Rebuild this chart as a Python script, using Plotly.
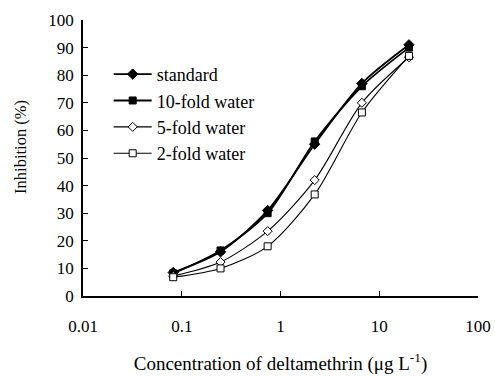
import plotly.graph_objects as go

conc = [0.082, 0.247, 0.741, 2.22, 6.67, 20]
standard = [8.5, 16.0, 31.0, 55.0, 77.0, 91.0]
fold10 = [8.2, 16.5, 30.0, 56.0, 76.0, 90.0]
fold5 = [7.2, 12.3, 23.5, 42.0, 70.0, 86.5]
fold2 = [6.8, 10.0, 18.0, 36.8, 66.5, 87.0]
names = ["standard", "10-fold water", "5-fold water", "2-fold water"]
xticks = [0.01, 0.1, 1, 10, 100]
xticktext = ["0.01", "0.1", "1", "10", "100"]
yticks = list(range(0, 101, 10))

series = [standard, fold10, fold5, fold2]
symbols = ["diamond", "square", "diamond", "square"]
fills = ["black", "black", "white", "white"]
widths = [1.8, 1.8, 1.1, 1.1]
sizes = [8, 7, 7, 7]

fig = go.Figure()
for i, (nm, ys) in enumerate(zip(names, series)):
    fig.add_trace(go.Scatter(
        x=conc, y=ys, name=nm, mode="lines+markers",
        line=dict(color="black", width=widths[i], shape="spline", smoothing=0.8),
        marker=dict(symbol=symbols[i], size=sizes[i], color=fills[i],
                    line=dict(color="black", width=1)),
        legendgroup=str(i),
    ))

fam = "Liberation Serif"
fig.update_layout(
    width=495, height=376,
    margin=dict(l=83, r=17, t=20, b=80),
    paper_bgcolor="white", plot_bgcolor="white",
    font=dict(family=fam, size=16, color="black"),
    showlegend=True,
    legend=dict(x=0.065, y=0.87, xanchor="left", yanchor="top",
                bgcolor="rgba(0,0,0,0)", font=dict(family=fam, size=18, color="black"),
                tracegroupgap=0, itemwidth=38),
    xaxis=dict(type="log", range=[-2, 2], tickvals=xticks, ticktext=xticktext,
               ticks="inside", ticklen=5, tickcolor="black", showline=True,
               linecolor="black", linewidth=1.5, showgrid=False, zeroline=False,
               automargin=False,
               ticklabelstandoff=14, tickfont=dict(family=fam, size=17),
               title=dict(text="Concentration of deltamethrin (μg L<sup>-1</sup>)",
                          standoff=22)),
    yaxis=dict(range=[0, 100], tickvals=yticks, ticks="inside", ticklen=5,
               tickcolor="black", showline=True, linecolor="black", linewidth=1.5,
               showgrid=False, zeroline=False, ticklabelstandoff=4, automargin=False,
               tickfont=dict(family=fam, size=17)),
    annotations=[dict(text="Inhibition (%)", xref="paper", yref="paper",
                      x=-0.157, y=0.54, textangle=-90, showarrow=False,
                      xanchor="center", yanchor="middle",
                      font=dict(family=fam, size=16.5, color="black"))],
)
fig.write_html("out.html")
